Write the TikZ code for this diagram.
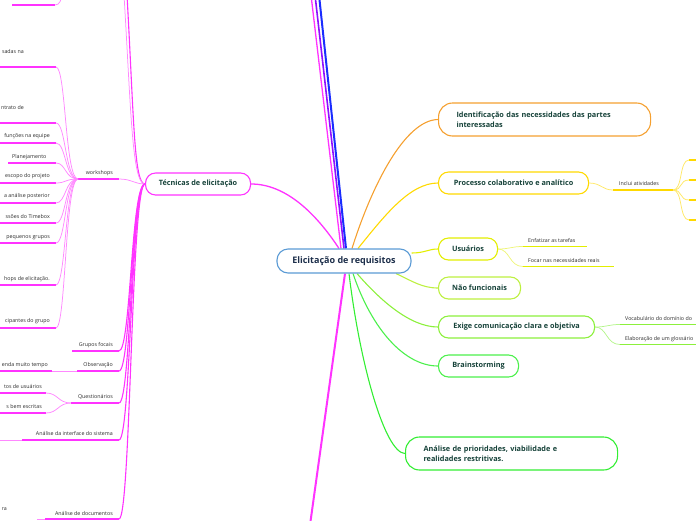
\documentclass[tikz,border=0pt]{standalone}
\usepackage{fontspec}
\setmainfont{Open Sans}
\usetikzlibrary{backgrounds}
\definecolor{mag}{HTML}{FF33FF}
\definecolor{magl}{HTML}{FF88FF}
\definecolor{vio}{HTML}{9010FF}
\definecolor{blu}{HTML}{1A2CFF}
\definecolor{org}{HTML}{F5A030}
\definecolor{ylw}{HTML}{FFD900}
\definecolor{ylwl}{HTML}{FFE866}
\definecolor{lemon}{HTML}{E3EE00}
\definecolor{lemonl}{HTML}{EEF57A}
\definecolor{lime}{HTML}{BDF040}
\definecolor{grl}{HTML}{8CF03C}
\definecolor{grll}{HTML}{B5F58C}
\definecolor{grn}{HTML}{4CF04C}
\definecolor{grn2}{HTML}{33EE33}
\definecolor{ctr}{HTML}{5B9BD5}
\definecolor{txt}{HTML}{17433A}
\definecolor{ctxt}{HTML}{1C2E4A}
\definecolor{lbltxt}{HTML}{2A2A2A}
\begin{document}
\begin{tikzpicture}[x=1pt,y=-1pt,
  topic/.style={draw, fill=white, line width=1.1, rounded corners=10, inner xsep=8, inner ysep=0, minimum height=22, font=\fontsize{7.3}{10.5}\selectfont\bfseries, text=txt},
  lbl/.style={font=\fontsize{5.3}{6.5}\selectfont, text=lbltxt, inner sep=0},
  uline/.style={line width=1.8},
  con/.style={line width=1.1},
  thin/.style={line width=0.75},
  trunk/.style={line width=2}]
\useasboundingbox (0,0) rectangle (696,520);

% ---------- topics ----------
\node[topic, draw=ctr, text=ctxt, minimum width=134, minimum height=24, rounded corners=11, font=\fontsize{9}{11}\selectfont\bfseries] (root) at (344,261) {Elicitação de requisitos};
\node[topic, draw=mag, minimum width=105, anchor=west] (tec) at (145,184) {Técnicas de elicitação};
\node[topic, draw=org, anchor=west, align=left, text width=176, inner xsep=18, minimum height=33, rounded corners=14] (ident) at (438,119.5) {Identificação das necessidades das partes\\interessadas};
\node[topic, draw=ylw, anchor=west, minimum width=150] (proc) at (438,183) {Processo colaborativo e analítico};
\node[topic, draw=lemon, anchor=west, minimum width=59] (usu) at (438,249) {Usuários};
\node[topic, draw=lime, anchor=west, minimum width=82] (naof) at (438,288) {Não funcionais};
\node[topic, draw=grl, anchor=west, minimum width=156] (exige) at (438,327) {Exige comunicação clara e objetiva};
\node[topic, draw=grn, anchor=west, minimum width=80] (brain) at (438,366) {Brainstorming};
\node[topic, draw=grn2, anchor=west, align=left, text width=176, inner xsep=18, minimum height=33, rounded corners=14] (prio) at (405,453.5) {Análise de prioridades, viabilidade e\\realidades restritivas.};

% ---------- coordinates ----------
\coordinate (up1) at (311,-5);
\coordinate (up2) at (315,-5);
\coordinate (up3) at (319,-5);
\coordinate (dn1) at (310,525);
% right-side children
\coordinate (incA) at (613,190);  \coordinate (incB) at (673,190);
\coordinate (i1) at (689,160); \coordinate (j1) at (700,160);
\coordinate (i2) at (689,180); \coordinate (j2) at (700,180);
\coordinate (i3) at (689,200); \coordinate (j3) at (700,200);
\coordinate (i4) at (689,220); \coordinate (j4) at (700,220);
\coordinate (enfA) at (523,246.5); \coordinate (enfB) at (587,246.5);
\coordinate (focA) at (523,266.5); \coordinate (focB) at (614,266.5);
\coordinate (vocA) at (620,324.5); \coordinate (vocB) at (700,324.5);
\coordinate (elaA) at (620,344.5); \coordinate (elaB) at (700,344.5);
% left-side children of Tecnicas
\coordinate (wA) at (78,179);  \coordinate (wB) at (119,179);
\coordinate (gA) at (72,351);  \coordinate (gB) at (119,351);
\coordinate (oA) at (77,371);  \coordinate (oB) at (119,371);
\coordinate (qA) at (71,403);  \coordinate (qB) at (119,403);
\coordinate (aiA) at (22,440); \coordinate (aiB) at (119,440);
\coordinate (adA) at (45,519); \coordinate (adB) at (119,519);
\coordinate (tu1) at (127,-5); \coordinate (tu2) at (124,-5);
% workshop children (right ends)
\coordinate (w1) at (56,67);   \coordinate (v1) at (-5,67);
\coordinate (w2) at (56,123);  \coordinate (v2) at (-5,123);
\coordinate (w3) at (56,143);  \coordinate (v3) at (-5,143);
\coordinate (w4) at (56,163);  \coordinate (v4) at (8,163);
\coordinate (w5) at (56,183);  \coordinate (v5) at (-5,183);
\coordinate (w6) at (56,203);  \coordinate (v6) at (-5,203);
\coordinate (w7) at (56,223);  \coordinate (v7) at (-5,223);
\coordinate (w8) at (56,243);  \coordinate (v8) at (-5,243);
\coordinate (w9) at (56,285);  \coordinate (v9) at (-5,285);
\coordinate (w10) at (56,328); \coordinate (v10) at (-5,328);
% other grandchildren
\coordinate (topA) at (12,5);  \coordinate (topB) at (55,5); \coordinate (topC) at (63,-8);
\coordinate (obA) at (-5,371); \coordinate (obB) at (52,371);
\coordinate (q1A) at (-5,393); \coordinate (q1B) at (46,393);
\coordinate (q2A) at (-5,413); \coordinate (q2B) at (46,413);
\coordinate (aiC) at (-5,440);
\coordinate (adC) at (37,519);

% ---------- labels ----------
\node[lbl, anchor=base west] (inc) at (619,185) {Inclui atividades};
\node[lbl, anchor=base west] (enf) at (528,242) {Enfatizar as tarefas};
\node[lbl, anchor=base west] (foc) at (528,262) {Focar nas necessidades reais};
\node[lbl, anchor=base west] (voc) at (625,320) {Vocabulário do domínio do};
\node[lbl, anchor=base west] (ela) at (625,340) {Elaboração de um glossário};

\node[lbl, anchor=base east] (work) at (113,174) {workshops};
\node[lbl, anchor=base east] (grf) at (113,346) {Grupos focais};
\node[lbl, anchor=base east] (obs) at (113,366) {Observação};
\node[lbl, anchor=base east] (que) at (113,398) {Questionários};
\node[lbl, anchor=base east] (ain) at (113,435) {Análise da interface do sistema};
\node[lbl, anchor=base east] (ado) at (113,515) {Análise de documentos};

\node[lbl, anchor=base east] (l1) at (24,53) {sadas na};
\node[lbl, anchor=base east] (l2) at (24,109) {ntrato de};
\node[lbl, anchor=base east] (l3) at (50,137) {funções na equipe};
\node[lbl, anchor=base west] (l4) at (12,158) {Planejamento};
\node[lbl, anchor=base east] (l5) at (50,177) {escopo do projeto};
\node[lbl, anchor=base east] (l6) at (50,197) {a análise posterior};
\node[lbl, anchor=base east] (l7) at (50,218) {ssões do Timebox};
\node[lbl, anchor=base east] (l8) at (50,238) {pequenos grupos};
\node[lbl, anchor=base east] (l9) at (50,280) {hops de elicitação.};
\node[lbl, anchor=base east] (l10) at (50,322) {cipantes do grupo};
\node[lbl, anchor=base east] (l11) at (48,366) {enda muito tempo};
\node[lbl, anchor=base east] (l12) at (42,388) {tos de usuários};
\node[lbl, anchor=base east] (l13) at (42,408) {s bem escritas};
\node[lbl, anchor=base east] (l14) at (7,510) {ra};

% ---------- connectors (behind nodes) ----------
\begin{scope}[on background layer, line cap=round]
  % up to off-canvas topics
  \draw[line width=1.3, mag] ([xshift=-3]root.north) -- (up1);
  \draw[line width=1.6, vio] (root.north) -- (up2);
  \draw[line width=2, blu] ([xshift=2]root.north) -- (up3);
  % down magenta
  \draw[trunk, mag] ([xshift=1]root.south) -- (dn1);
  % to Tecnicas
  \draw[line width=1.3, mag] ([xshift=-5]root.north) .. controls (315,212) and (285,184) .. (tec.east);
  % right topics
  \draw[con, org] ([xshift=8]root.north) .. controls (372,185) and (405,120) .. (ident.west);
  \draw[con, ylw] ([xshift=14]root.north) .. controls (385,215) and (410,183) .. (proc.west);
  \draw[con, lemon] ([yshift=8]root.east) .. controls (425,253) and (428,249) .. (usu.west);
  \draw[con, lime] ([xshift=52]root.south) .. controls (412,281) and (422,288) .. (naof.west);
  \draw[con, grl] ([xshift=13]root.south) .. controls (380,300) and (410,327) .. (exige.west);
  \draw[con, grn] ([xshift=9]root.south) .. controls (372,330) and (405,366) .. (brain.west);
  \draw[con, grn2] ([xshift=5]root.south) .. controls (360,365) and (385,453) .. (prio.west);

  % Processo -> Inclui atividades
  \draw[thin, ylwl] (proc.east) .. controls (601,183) and (602,190) .. (incA);
  \draw[uline, ylw] (incA) -- (incB);
  \foreach \a/\b/\yy in {i1/j1/160, i2/j2/180, i3/j3/200, i4/j4/220}{
    \draw[thin, ylwl] (incB) .. controls (683,190) and (679,\yy) .. (\a);
    \draw[uline, ylw] (\a) -- (\b);
  }
  % Usuarios
  \draw[thin, lemonl] (usu.east) .. controls (510,249) and (511,246.5) .. (enfA);
  \draw[uline, lemon] (enfA) -- (enfB);
  \draw[thin, lemonl] (usu.east) .. controls (510,249) and (509,266.5) .. (focA);
  \draw[uline, lemon] (focA) -- (focB);
  % Exige
  \draw[thin, grll] (exige.east) .. controls (607,327) and (608,324.5) .. (vocA);
  \draw[uline, grl] (vocA) -- (vocB);
  \draw[thin, grll] (exige.east) .. controls (607,327) and (606,344.5) .. (elaA);
  \draw[uline, grl] (elaA) -- (elaB);

  % Tecnicas -> children
  \draw[con, mag] (tec.west) .. controls (134,184) and (134,120) .. (tu1);
  \draw[thin, magl] (tec.west) .. controls (132,184) and (131,110) .. (tu2);
  \draw[thin, magl] (wB) .. controls (132,179) and (134,184) .. (tec.west);
  \draw[uline, mag] (wA) -- (wB);
  \foreach \a/\b/\yy in {gA/gB/351, oA/oB/371, qA/qB/403, aiA/aiB/440, adA/adB/519}{
    \draw[uline, mag] (\a) -- (\b);
    \draw[con, mag] (\b) .. controls (131,\yy) and (131,184) .. (tec.west);
  }
  % workshops -> children
  \foreach \i/\yy in {1/67,2/123,3/143,4/163,5/183,6/203,7/223,8/243,9/285,10/328}{
    \draw[uline, mag] (v\i) -- (w\i);
    \draw[thin, magl] (w\i) .. controls (66,\yy) and (65,179) .. (wA);
  }
  % top item
  \draw[uline, mag] (topA) -- (topB);
  \draw[thin, magl] (topB) .. controls (60,5) and (61,0) .. (topC);
  % Observacao child
  \draw[uline, mag] (obA) -- (obB);
  \draw[thin, magl] (obB) -- (oA);
  % Questionarios children
  \draw[uline, mag] (q1A) -- (q1B);
  \draw[uline, mag] (q2A) -- (q2B);
  \draw[thin, magl] (q1B) .. controls (58,393) and (58,403) .. (qA);
  \draw[thin, magl] (q2B) .. controls (58,413) and (58,403) .. (qA);
  % Analise interface child
  \draw[thin, magl] (aiC) -- (aiA);
  % Analise documentos child
  \draw[thin, magl] (adC) -- (adA);
\end{scope}
\end{tikzpicture}
\end{document}
